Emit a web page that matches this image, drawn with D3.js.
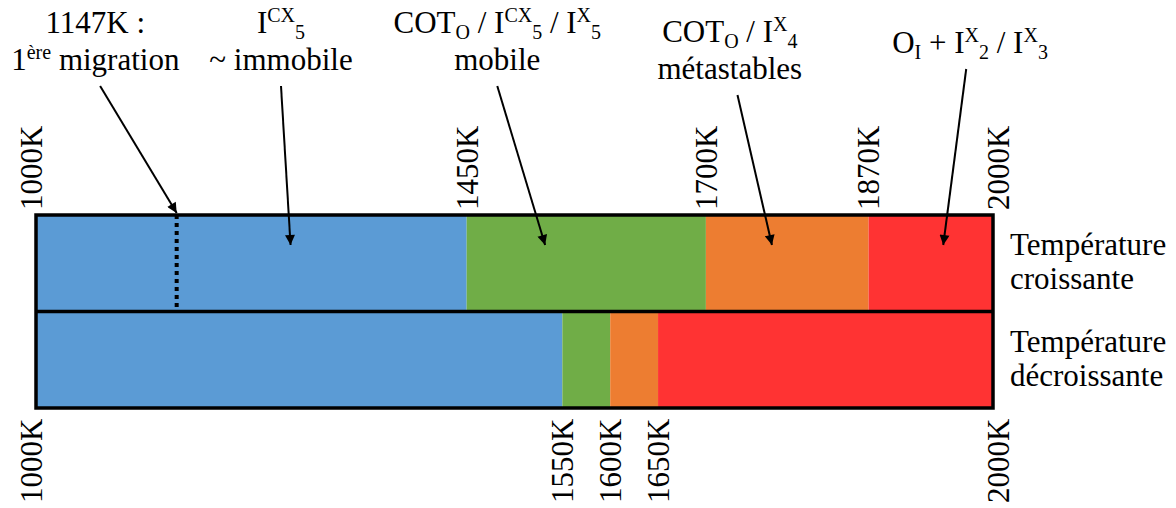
<!DOCTYPE html>
<html><head><meta charset="utf-8">
<script src="https://cdn.jsdelivr.net/npm/d3@7"></script>
<style>
body{margin:0;background:#fff}
svg{display:block}
</style>
</head><body>
<svg id="c" width="1176" height="508" font-family="'Liberation Serif', 'DejaVu Serif', 'Times New Roman', serif"></svg>
<script>
// ---------- data ----------
const rows = ["Température croissante", "Température décroissante"];
const phaseColors = ["#5B9BD5", "#70AD47", "#ED7D31", "#FF3333"];
const boundsUp = [1000, 1450, 1700, 1870, 2000];
const boundsDown = [1000, 1550, 1600, 1650, 2000];
const firstMigration = 1147;
const annotationLines = [
  ["1147K :", "1^{ère} migration"],
  ["I^{CX}_{5}", "~ immobile"],
  ["COT_{O} / I^{CX}_{5} / I^{X}_{5}", "mobile"],
  ["COT_{O} / I^{X}_{4}", "métastables"],
  ["O_{I} + I^{X}_{2} / I^{X}_{3}"]
];
const labelTemps = [1062, 1256, 1482, 1725, 1976];
const arrowStartTemps = [1067, 1256, 1482, 1733, 1972];
const arrowTipTemps = [1147, 1266, 1532, 1769, 1948];

// ---------- layout ----------
const FONT = "'Liberation Serif', 'DejaVu Serif', 'Times New Roman', serif";
const MAIN = 31, SMALL = 20, SUP = 11, SUB = 6;
const labelFirstBaseline = [33, 33, 33, 42, 53];
const lineGap = 37;

const svg = d3.select("#c");
const x = d3.scaleLinear().domain([1000, 2000]).range([36, 993]);
const y = d3.scaleBand().domain(rows).range([215, 408]);

function richText(sel, str) {
  const parts = str.split(/(\^\{[^}]*\}|_\{[^}]*\})/).filter(s => s.length);
  let cur = 0;
  parts.forEach(p => {
    let target = 0, size = MAIN, txt = p;
    if (p.startsWith("^{")) { target = -SUP; size = SMALL; txt = p.slice(2, -1); }
    else if (p.startsWith("_{")) { target = SUB; size = SMALL; txt = p.slice(2, -1); }
    sel.append("tspan").attr("dy", target - cur).attr("font-size", size).text(txt);
    cur = target;
  });
}

// segments
const rowBounds = [boundsUp, boundsDown];
rows.forEach((r, i) => {
  const b = rowBounds[i];
  const segs = d3.pairs(b).map((p, j) => ({ a: p[0], b: p[1], c: phaseColors[j] }));
  svg.append("g").selectAll("rect").data(segs).join("rect")
    .attr("x", d => x(d.a)).attr("width", d => x(d.b) - x(d.a))
    .attr("y", y(r)).attr("height", y.bandwidth())
    .attr("fill", d => d.c);
});

// dotted first migration line
svg.append("line")
  .attr("x1", x(firstMigration)).attr("x2", x(firstMigration))
  .attr("y1", y(rows[0])).attr("y2", y(rows[0]) + y.bandwidth())
  .attr("stroke", "#000").attr("stroke-width", 4).attr("stroke-dasharray", "4,4");

// frame
svg.append("rect")
  .attr("x", x(1000)).attr("y", y.range()[0])
  .attr("width", x(2000) - x(1000)).attr("height", y.range()[1] - y.range()[0])
  .attr("fill", "none").attr("stroke", "#000").attr("stroke-width", 3.5);
svg.append("line")
  .attr("x1", x(1000)).attr("x2", x(2000))
  .attr("y1", y(rows[1])).attr("y2", y(rows[1]))
  .attr("stroke", "#000").attr("stroke-width", 3.5);

// tick labels
function tickLabels(bounds, yPos, anchor) {
  svg.append("g").selectAll("text").data(bounds).join("text")
    .attr("transform", (d, i) => {
      const off = i === 0 ? -5 : (i === bounds.length - 1 ? 5 : 0);
      return `translate(${x(d) + off},${yPos}) rotate(-90)`;
    })
    .attr("dy", "0.35em")
    .attr("text-anchor", anchor)
    .attr("font-family", FONT)
    .attr("font-size", MAIN)
    .text(d => d + "K");
}
tickLabels(boundsUp, 210, "start");
tickLabels(boundsDown, 503, "start");

// row labels
rows.forEach(r => {
  const words = r.split(" ");
  const cy = y(r) + y.bandwidth() / 2;
  const t = svg.append("text").attr("font-family", FONT).attr("font-size", MAIN);
  t.append("tspan").attr("x", x(2000) + 17).attr("y", cy - 8).text(words[0]);
  t.append("tspan").attr("x", x(2000) + 17).attr("y", cy + 26).text(words[1]);
});

// arrows
svg.append("defs").append("marker")
  .attr("id", "ah").attr("viewBox", "0 0 10 10").attr("refX", 10).attr("refY", 5)
  .attr("markerWidth", 12).attr("markerHeight", 10).attr("markerUnits", "userSpaceOnUse")
  .attr("orient", "auto")
  .append("path").attr("d", "M0,0 L10,5 L0,10 z").attr("fill", "#000");

annotationLines.forEach((lines, i) => {
  lines.forEach((ln, k) => {
    const t = svg.append("text")
      .attr("x", x(labelTemps[i]))
      .attr("y", labelFirstBaseline[i] + k * lineGap)
      .attr("text-anchor", "middle")
      .attr("font-family", FONT)
      .attr("font-size", MAIN)
      .style("white-space", "pre");
    richText(t, ln);
  });
  const startY = labelFirstBaseline[i] + (lines.length - 1) * lineGap + 16;
  const tipY = i === 0 ? y(rows[0]) - 2 : y(rows[0]) + 30;
  svg.append("line")
    .attr("x1", x(arrowStartTemps[i])).attr("y1", startY)
    .attr("x2", x(arrowTipTemps[i])).attr("y2", tipY)
    .attr("stroke", "#000").attr("stroke-width", 2)
    .attr("marker-end", "url(#ah)");
});
</script>
</body></html>
